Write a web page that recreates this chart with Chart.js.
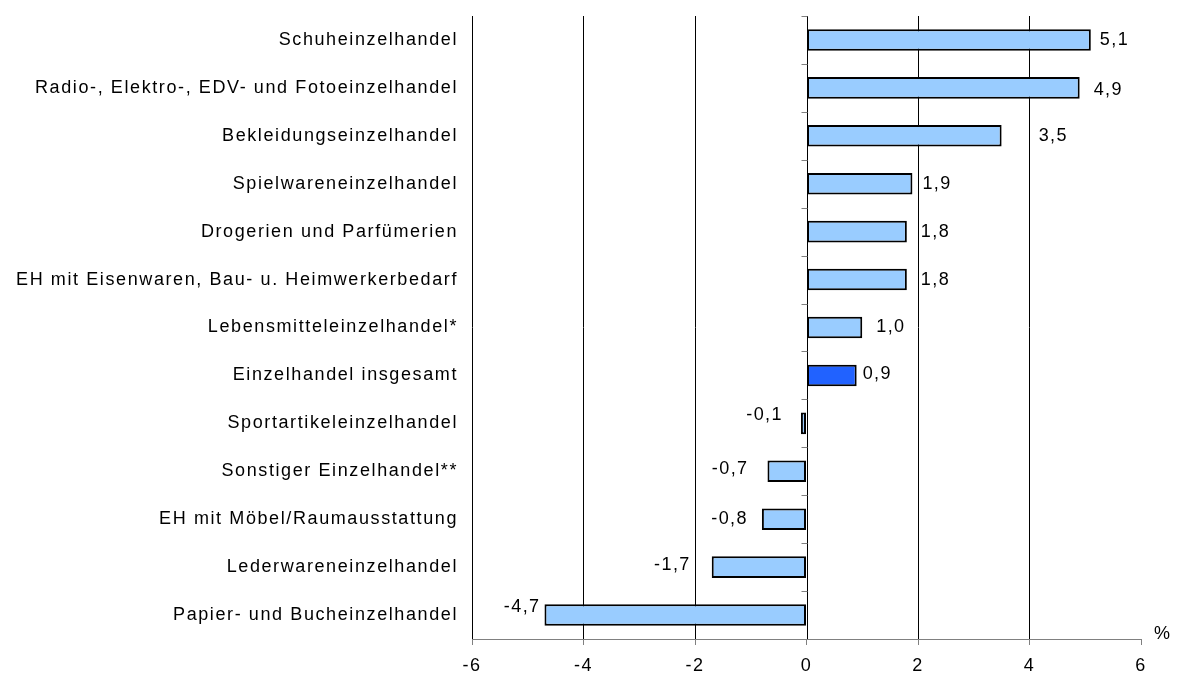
<!DOCTYPE html>
<html>
<head>
<meta charset="utf-8">
<script src="https://cdn.jsdelivr.net/npm/chart.js@4.4.1/dist/chart.umd.min.js"></script>
<style>
	html, body { margin: 0; padding: 0; background: #fff; }
	#wrap { width: 1177px; height: 679px; position: relative; }
</style>
</head>
<body>
<div id="wrap"><canvas id="myChart" width="1177" height="679"></canvas></div>
<script>
	var categories = [
		'Schuheinzelhandel',
		'Radio-, Elektro-, EDV- und Fotoeinzelhandel',
		'Bekleidungseinzelhandel',
		'Spielwareneinzelhandel',
		'Drogerien und Parfümerien',
		'EH mit Eisenwaren, Bau- u. Heimwerkerbedarf',
		'Lebensmitteleinzelhandel*',
		'Einzelhandel insgesamt',
		'Sportartikeleinzelhandel',
		'Sonstiger Einzelhandel**',
		'EH mit Möbel/Raumausstattung',
		'Lederwareneinzelhandel',
		'Papier- und Bucheinzelhandel'
	];
	var values = [5.1, 4.9, 3.5, 1.9, 1.8, 1.8, 1.0, 0.9, -0.1, -0.7, -0.8, -1.7, -4.7];
	var highlight = 'Einzelhandel insgesamt';

	var bar_colors = categories.map(function(c){
		return c == highlight ? '#2162FF' : '#99CCFF';
	});
	// the original places its value labels a bit irregularly
	var label_gap = [9, 14, 37, 10, 14, 14, 14, 6, 18, 19, 14, 21, 4];
	var label_dy  = [0, 2, 0, 0, 0, 0, 0, -1, -8, -2, 0, -2, -8];

	var FONT = '"Liberation Sans", Arial, sans-serif';

	var spacing = {
		id: 'spacing',
		beforeDraw: function(chart) { chart.ctx.letterSpacing = '1.6px'; }
	};

	var valueLabels = {
		id: 'valueLabels',
		afterDatasetsDraw: function(chart) {
			var ctx = chart.ctx;
			var meta = chart.getDatasetMeta(0);
			ctx.save();
			ctx.font = '18px ' + FONT;
			ctx.letterSpacing = '1.4px';
			ctx.fillStyle = '#000';
			ctx.textBaseline = 'middle';
			meta.data.forEach(function(bar, i){
				var v = values[i];
				var txt = v.toFixed(1).replace('.', ',');
				if (v >= 0) {
					ctx.textAlign = 'left';
					ctx.fillText(txt, bar.x + label_gap[i], bar.y + label_dy[i]);
				} else {
					ctx.textAlign = 'right';
					ctx.fillText(txt, bar.x - label_gap[i], bar.y + label_dy[i]);
				}
			});
			ctx.restore();
		}
	};

	var zeroAxis = {
		id: 'zeroAxis',
		afterDatasetsDraw: function(chart) {
			var ctx = chart.ctx;
			var xs = chart.scales.x, ys = chart.scales.y;
			var x0 = Math.round(xs.getPixelForValue(0)) + 0.5;
			ctx.save();
			ctx.strokeStyle = '#000';
			ctx.lineWidth = 1;
			ctx.beginPath();
			ctx.moveTo(x0, ys.top);
			ctx.lineTo(x0, ys.bottom);
			ctx.stroke();
			ctx.strokeStyle = '#808080';
			var step = (ys.bottom - ys.top) / categories.length;
			ctx.beginPath();
			for (var i = 0; i <= categories.length; i++) {
				var y = Math.round(ys.top + i * step) + 0.5;
				ctx.moveTo(x0 - 6, y);
				ctx.lineTo(x0, y);
			}
			ctx.stroke();
			// unit
			ctx.font = '18px ' + FONT;
			ctx.fillStyle = '#000';
			ctx.textAlign = 'left';
			ctx.textBaseline = 'middle';
			ctx.fillText('%', xs.right + 13, ys.bottom - 5);
			ctx.restore();
		}
	};

	var ctxBar = document.getElementById('myChart').getContext('2d');
	var myBar = new Chart(ctxBar, {
		type: 'bar',
		data: {
			labels: categories,
			datasets: [{
				data: values,
				backgroundColor: bar_colors,
				borderColor: '#000',
				borderWidth: 2,
				borderSkipped: false,
				categoryPercentage: 1,
				barPercentage: 0.45
			}]
		},
		options: {
			indexAxis: 'y',
			responsive: false,
			animation: false,
			devicePixelRatio: 1,
			layout: { padding: { top: 16, right: 36, bottom: 0, left: 0 } },
			plugins: {
				legend: { display: false },
				tooltip: { enabled: false }
			},
			scales: {
				x: {
					min: -6,
					max: 6,
					ticks: {
						stepSize: 2,
						color: '#000',
						padding: 10,
						font: { family: FONT, size: 18 }
					},
					grid: {
						color: function(c){
							if (!c.tick) return 'transparent';
							return (c.tick.value == 6 || c.tick.value == 0) ? 'transparent' : '#000';
						},
						tickColor: '#808080',
						tickLength: 6,
						lineWidth: 1
					},
					border: { color: '#808080', width: 1 },
					afterFit: function(scale) { scale.height = 40; scale.paddingLeft = 0; scale.paddingRight = 0; }
				},
				y: {
					ticks: {
						color: '#000',
						padding: 14,
						font: { family: FONT, size: 18 }
					},
					grid: { display: false, drawTicks: false },
					border: { display: false },
					afterFit: function(scale) { scale.width = 472; scale.paddingTop = 0; scale.paddingBottom = 0; }
				}
			}
		},
		plugins: [spacing, valueLabels, zeroAxis]
	});
</script>
</body>
</html>
